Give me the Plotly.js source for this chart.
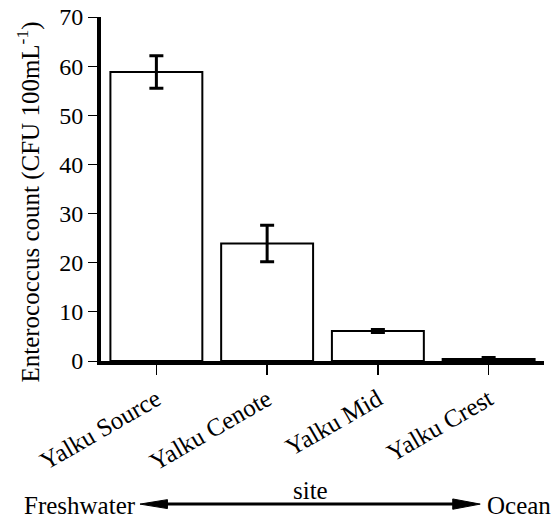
<!DOCTYPE html>
<html>
<head>
<meta charset="utf-8">
<script src="https://cdn.plot.ly/plotly-3.0.1.min.js"></script>
<style>html,body{margin:0;padding:0;background:#fff;}#chart{width:557px;height:519px;}</style>
</head>
<body>
<div id="chart"></div>
<script>
var sites = ["Yalku Source", "Yalku Cenote", "Yalku Mid", "Yalku Crest"];
var counts = [58.8, 23.9, 6.1, 0.4];
var errors = [3.3, 3.7, 0.3, 0.3];
var yTicks = [0, 10, 20, 30, 40, 50, 60, 70];
var yTitle = "Enterococcus count (CFU 100mL<sup>-1</sup>)";

var font = "'Liberation Serif', 'Times New Roman', serif";
var fs = 25;

var trace = {
  type: "bar",
  x: sites,
  y: counts,
  width: 0.83,
  marker: {color: "#ffffff", line: {color: "#000000", width: 2}},
  error_y: {type: "data", array: errors, visible: true, color: "#000000", thickness: 3, width: 7},
  hoverinfo: "x+y"
};

var layout = {
  width: 557, height: 519,
  margin: {l: 101, r: 13, t: 17, b: 158},
  paper_bgcolor: "#ffffff", plot_bgcolor: "#ffffff",
  font: {family: font, size: fs, color: "#000000"},
  showlegend: false,
  xaxis: {
    type: "category",
    range: [-0.5, 3.5],
    showline: true, linecolor: "#000000", linewidth: 4,
    ticks: "outside", ticklen: 10, tickwidth: 1.5, tickcolor: "#000000",
    tickangle: -30,
    tickfont: {family: font, size: fs, color: "#000000"},
    showgrid: false, zeroline: false, automargin: false
  },
  yaxis: {
    range: [0, 70],
    tickvals: yTicks,
    showline: true, linecolor: "#000000", linewidth: 4,
    ticks: "outside", ticklen: 9, tickwidth: 1, tickcolor: "#000000",
    tickfont: {family: font, size: 24, color: "#000000"},
    showgrid: false, zeroline: false, automargin: false
  },
  shapes: [
    {type: "line", xref: "paper", yref: "paper", x0: 0.13, x1: 0.82, y0: -0.416, y1: -0.416, line: {color: "#000000", width: 3}},
    {type: "path", xref: "paper", yref: "paper", path: "M0.088,-0.416 L0.150,-0.403 L0.150,-0.429 Z", fillcolor: "#000000", line: {color: "#000000", width: 1}},
    {type: "path", xref: "paper", yref: "paper", path: "M0.856,-0.416 L0.794,-0.401 L0.794,-0.431 Z", fillcolor: "#000000", line: {color: "#000000", width: 1}}
  ],
  annotations: [
    {xref: "paper", yref: "paper", x: -0.163, y: 0.463, text: yTitle, textangle: -90, showarrow: false, xanchor: "center", yanchor: "middle", font: {family: font, size: fs, color: "#000000"}},
    {xref: "paper", yref: "paper", x: 0.472, y: -0.376, text: "site", showarrow: false, xanchor: "center", yanchor: "middle", font: {family: font, size: fs, color: "#000000"}},
    {xref: "paper", yref: "paper", x: 0.083, y: -0.419, text: "Freshwater", showarrow: false, xanchor: "right", yanchor: "middle", font: {family: font, size: fs, color: "#000000"}},
    {xref: "paper", yref: "paper", x: 0.866, y: -0.419, text: "Ocean", showarrow: false, xanchor: "left", yanchor: "middle", font: {family: font, size: fs, color: "#000000"}}
  ]
};

Plotly.newPlot("chart", [trace], layout, {displayModeBar: false, staticPlot: true});
</script>
</body>
</html>
